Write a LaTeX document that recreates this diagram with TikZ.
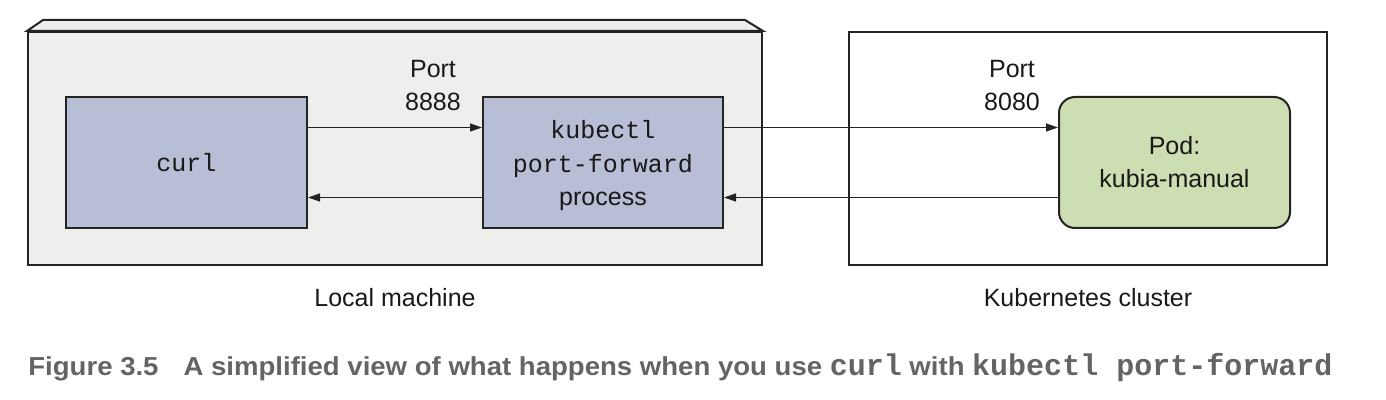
\documentclass[tikz,border=0pt]{standalone}
\usepackage{fontspec}
\setmainfont{Liberation Sans}
\setmonofont{Liberation Mono}
\newfontfamily\capfont[FakeStretch=1.06]{Liberation Sans}
\newfontfamily\capmono{Liberation Mono}
\usepackage{xcolor}
\usepackage{tikz}
\usetikzlibrary{arrows.meta}

\definecolor{machinegray}{RGB}{238,238,237}
\definecolor{procblue}{RGB}{184,190,214}
\definecolor{podgreen}{RGB}{204,222,178}
\definecolor{linegray}{RGB}{35,35,35}
\definecolor{capgray}{RGB}{100,100,100}

\tikzset{
  txt/.style={font=\fontsize{12.5}{16.5}\selectfont, text=black!90},
  outer/.style={draw=linegray, line width=1pt, minimum height=116.5pt, inner sep=0pt},
  proc/.style={draw=linegray, line width=1pt, fill=procblue, minimum width=120.5pt,
    minimum height=65.5pt, align=center, txt},
  fwd/.style={draw=linegray, line width=0.7pt, -{Triangle[length=6pt,width=4pt]}}
}

\begin{document}
\begin{tikzpicture}[x=0.5pt, y=-0.5pt]
\useasboundingbox (0,0) rectangle (1386,400);

% Boxes
\node[outer, fill=machinegray, minimum width=367pt] (machine) at (395,148.5) {};
\draw[draw=linegray, line width=1pt, fill=machinegray]
  (machine.north west) -- ++(16,-11) -- ++(702,0) -- (machine.north east) -- cycle;
\node[outer, fill=white, minimum width=239pt] (cluster) at (1088,148.5) {};

\node[proc] (curl) at (186.5,162.5) {\ttfamily curl};
\node[proc, minimum width=120pt, text depth=-2.5pt] (kubectl) at (603,162.5)
  {\ttfamily kubectl\\[0.5pt]\ttfamily port-forward\\process};
\node[proc, fill=podgreen, rounded corners=8pt, minimum width=115.5pt] (pod) at (1174.5,162.5)
  {Pod:\\kubia-manual};

% Labels
\node[txt, align=center] (port8888) at (433,86) {Port\\8888};
\node[txt, align=center] (port8080) at (1012,86) {Port\\8080};
\node[txt] (machinelabel) at (395,298) {Local machine};
\node[txt] (clusterlabel) at (1088,298) {Kubernetes cluster};

% Connectors
\foreach \a/\b in {curl/kubectl, kubectl/pod} {
    \draw[fwd] ([yshift=17.5pt]\a.east) -- ([yshift=17.5pt]\b.west);
    \draw[fwd] ([yshift=-17.5pt]\b.west) -- ([yshift=-17.5pt]\a.east);
}

% Caption
\node[anchor=west, inner sep=0pt, text=capgray, font=\capfont\bfseries\fontsize{13}{16}\selectfont] (caption) at (28,368)
  {Figure 3.5\hspace{12.5pt}A simplified view of what happens when you use
   {\capmono\fontsize{15}{16}\selectfont curl} with
   {\capmono\fontsize{15}{16}\selectfont kubectl port-forward}};
\end{tikzpicture}
\end{document}
